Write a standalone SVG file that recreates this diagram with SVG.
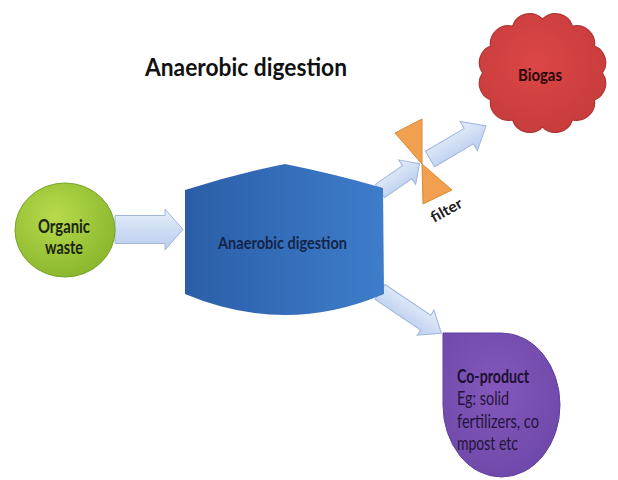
<svg xmlns="http://www.w3.org/2000/svg" width="618" height="480" viewBox="0 0 618 480">
<defs>
<linearGradient id="gArrow" x1="0" y1="0" x2="0" y2="1">
<stop offset="0" stop-color="#e6eefa"/>
<stop offset="1" stop-color="#b9cdee"/>
</linearGradient>
<radialGradient id="gGreen" cx="0.4" cy="0.35" r="0.7">
<stop offset="0" stop-color="#b8da4c"/>
<stop offset="1" stop-color="#88b62c"/>
</radialGradient>
<linearGradient id="gBlue" x1="0" y1="0" x2="1" y2="0">
<stop offset="0" stop-color="#2b5ea8"/>
<stop offset="1" stop-color="#3e7dca"/>
</linearGradient>
<radialGradient id="gRed" cx="0.45" cy="0.4" r="0.7">
<stop offset="0" stop-color="#dc4646"/>
<stop offset="1" stop-color="#c53b3b"/>
</radialGradient>
<radialGradient id="gPurple" cx="0.45" cy="0.4" r="0.7">
<stop offset="0" stop-color="#8458bb"/>
<stop offset="1" stop-color="#6c47a8"/>
</radialGradient>
<style>
.arrow{fill:url(#gArrow);stroke:#9fb6dc;stroke-width:1}
.lbl{font-family:Lato,"Liberation Sans",sans-serif;font-weight:bold}
.reg{font-family:Lato,"Liberation Sans",sans-serif}
</style>
</defs>
<rect width="618" height="480" fill="#ffffff"/>

<text class="lbl" x="145" y="76" font-size="25" fill="#111" textLength="202" lengthAdjust="spacingAndGlyphs">Anaerobic digestion</text>

<g id="connectors">
<path class="arrow" transform="translate(115,229.5)" d="M0,-14 L50,-14 L50,-20.5 L68,0 L50,20.5 L50,14 L0,14 Z"/>
<path class="arrow" transform="translate(380,191) rotate(-34.7)" d="M0,-8 L33,-8 L33,-15 L48,0 L33,15 L33,8 L0,8 Z"/>
<path class="arrow" transform="translate(430,159) rotate(-30.5)" d="M0,-9 L45,-9 L45,-17 L65,0 L45,17 L45,9 L0,9 Z"/>
<path class="arrow" transform="translate(380,292) rotate(33.9)" d="M0,-9 L55,-9 L55,-15 L74,0 L55,15 L55,9 L0,9 Z"/>
</g>

<g id="organic-waste">
<ellipse cx="65" cy="230" rx="50" ry="47" fill="url(#gGreen)" stroke="#78a42a" stroke-width="1"/>
<text class="lbl" x="64" y="233" font-size="18" fill="#1a2410" text-anchor="middle" textLength="52" lengthAdjust="spacingAndGlyphs">Organic</text>
<text class="lbl" x="64" y="254" font-size="18" fill="#1a2410" text-anchor="middle" textLength="38" lengthAdjust="spacingAndGlyphs">waste</text>
</g>

<g id="digester">
<path d="M185,190 Q235,174 285,164 Q335,174 383,188 L384,294 Q285,336 185,294 Z" fill="url(#gBlue)"/>
<text class="lbl" x="218" y="249" font-size="17" fill="#14254a" textLength="129" lengthAdjust="spacingAndGlyphs">Anaerobic digestion</text>
</g>

<g id="filter">
<polygon points="395,133 422,119 422,164" fill="#f0a04e" stroke="#d88a34" stroke-width="1"/>
<polygon points="422,164 423,204 452,190" fill="#f0a04e" stroke="#d88a34" stroke-width="1"/>
<text class="lbl" x="434" y="223" font-size="15" fill="#222" transform="rotate(-29 434 223)" textLength="34" lengthAdjust="spacingAndGlyphs">filter</text>
</g>

<g id="biogas">
<path d="M602.5,73 A18,18 0 0 1 594.5,100 A18,18 0 0 1 572.5,119.8 A18,18 0 0 1 542.5,127 A18,18 0 0 1 512.5,119.8 A18,18 0 0 1 490.5,100 A18,18 0 0 1 482.5,73 A18,18 0 0 1 490.5,46 A18,18 0 0 1 512.5,26.2 A18,18 0 0 1 542.5,19 A18,18 0 0 1 572.5,26.2 A18,18 0 0 1 594.5,46 A18,18 0 0 1 602.5,73 Z" fill="url(#gRed)" stroke="#b03434" stroke-width="1.2"/>
<text class="lbl" x="540" y="81" font-size="17" fill="#2a0808" text-anchor="middle" textLength="44" lengthAdjust="spacingAndGlyphs">Biogas</text>
</g>

<g id="co-product">
<path d="M443,333 H501.5 A58.5,72 0 0 1 560,405 A58.5,72 0 0 1 501.5,477 A58.5,72 0 0 1 443,405 Z" fill="url(#gPurple)" stroke="#6040a0" stroke-width="1"/>
<text class="lbl" x="457" y="383" font-size="19" fill="#1c0f30" textLength="72" lengthAdjust="spacingAndGlyphs">Co-product</text>
<text class="reg" x="457" y="405" font-size="19" fill="#24143a" textLength="52" lengthAdjust="spacingAndGlyphs">Eg: solid</text>
<text class="reg" x="457" y="428" font-size="19" fill="#24143a" textLength="82" lengthAdjust="spacingAndGlyphs">fertilizers, co</text>
<text class="reg" x="457" y="450" font-size="19" fill="#24143a" textLength="61" lengthAdjust="spacingAndGlyphs">mpost etc</text>
</g>
</svg>
